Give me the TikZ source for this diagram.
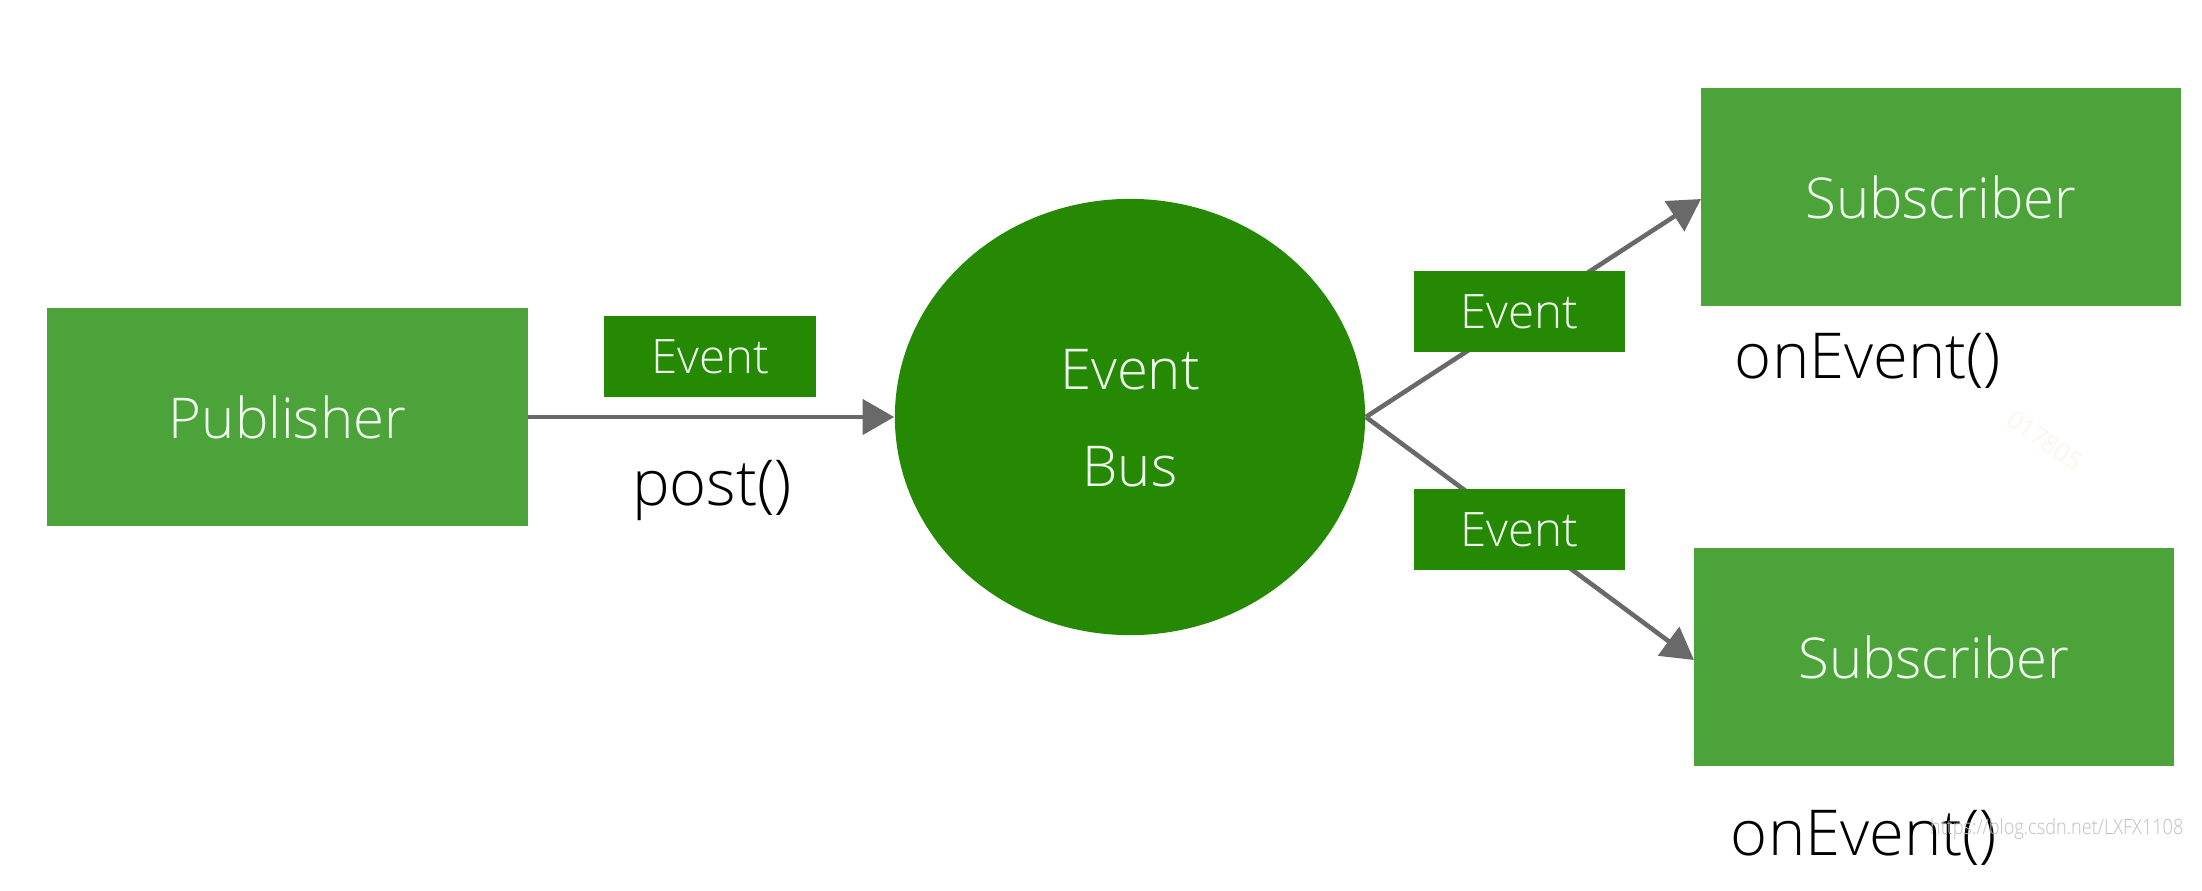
\documentclass[tikz,border=0pt]{standalone}
\usepackage{fontspec}
\setmainfont{Open Sans}[UprightFont=* Light]
\usetikzlibrary{arrows.meta,shapes.geometric}
\definecolor{boxgreen}{RGB}{76,163,58}
\definecolor{darkgreen}{RGB}{38,137,4}
\definecolor{linegray}{RGB}{105,105,105}
\definecolor{txtwhite}{RGB}{240,255,240}
\begin{document}
\begin{tikzpicture}[x=0.01cm,y=-0.01cm,
  bigbox/.style={rectangle,fill=boxgreen,draw=none,minimum width=4.8cm,minimum height=2.18cm,inner sep=0pt,text=txtwhite,font=\fontsize{16}{19}\selectfont},
  evbox/.style={rectangle,fill=darkgreen,draw=none,minimum width=2.11cm,minimum height=0.81cm,inner sep=0pt,text=txtwhite,font=\fontsize{13.5}{16}\selectfont},
  lbl/.style={text=black,inner sep=0pt,font=\fontsize{18}{21}\selectfont},
  conn/.style={draw=linegray,line width=1.3pt,-{Triangle[length=9pt,width=10pt]}},
  wmark/.style={inner sep=0pt}]
\useasboundingbox[fill=white] (0,0) rectangle (2202,890);
% nodes
\node[bigbox] (pub) at (287.5,417) {Publisher};
\node[ellipse,fill=darkgreen,minimum width=4.70cm,minimum height=4.36cm,inner sep=0pt] (bus) at (1130,417) {};
\node[text=txtwhite,font=\fontsize{16}{19}\selectfont,inner sep=0pt] (busa) at (1130,370) {Event};
\node[text=txtwhite,font=\fontsize{16}{19}\selectfont,inner sep=0pt] (busb) at (1130,467) {Bus};
\node[bigbox] (sub1) at (1941,197) {Subscriber};
\node[bigbox] (sub2) at (1934,657) {Subscriber};
\coordinate (t1) at (1701,199);
\coordinate (t2) at (1694,660);
% connectors
\draw[conn] (pub.east) -- (bus.west);
\draw[conn] (bus.east) -- (t1);
\draw[conn] (bus.east) -- (t2);
% event labels
\node[evbox] (ev1) at (710,356.5) {Event};
\node[evbox] (ev2) at (1519.5,311.5) {Event};
\node[evbox] (ev3) at (1519.5,529.5) {Event};
\node[lbl] (post) at (712,490) {post()};
\node[lbl] (on1) at (1868,361) {onEvent()};
\node[lbl] (on2) at (1864,838) {onEvent()};
% watermarks
\node[wmark,text=black!25,font=\fontsize{6}{7}\selectfont,xscale=0.86,anchor=east] (wm) at (2184,829) {https://blog.csdn.net/LXFX1108};
\node[wmark,text=orange!12,font=\fontsize{7}{8}\selectfont,rotate=-35] (wm2) at (2045,440) {017805};
\end{tikzpicture}
\end{document}
